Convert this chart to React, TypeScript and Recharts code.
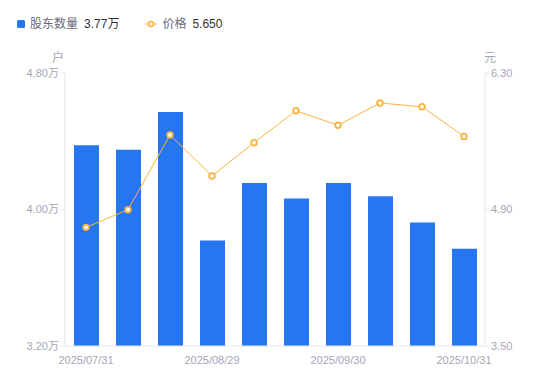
import React from "react";
import { Bar, ComposedChart, Line, XAxis, YAxis } from "recharts";

const dates = [
  "2025/07/31", "2025/08/08", "2025/08/20", "2025/08/29", "2025/09/10",
  "2025/09/19", "2025/09/30", "2025/10/10", "2025/10/20", "2025/10/31",
];
const holders = [4.376, 4.35, 4.572, 3.818, 4.155, 4.065, 4.155, 4.077, 3.924, 3.77];
const prices = [4.717, 4.898, 5.664, 5.244, 5.585, 5.913, 5.764, 5.992, 5.954, 5.65];
const leftTicks = [3.2, 4.0, 4.8];
const rightTicks = [3.5, 4.9, 6.3];

const BLUE = "#2676f2";
const ORANGE = "#f8b33e";
const AXIS = "#e3e5ea";
const TICK = "#a3a7b5";
const FONT = "'Liberation Sans', 'Noto Sans CJK SC', sans-serif";

const data = dates.map((d, i) => ({ date: d, holders: holders[i], price: prices[i] }));

const App: React.FunctionComponent = () => {
  const lastHolders = holders[holders.length - 1];
  const lastPrice = prices[prices.length - 1];

  return (
    <div style={{ position: "absolute", left: 0, top: 0, width: 550, height: 381, fontFamily: FONT }}>
      {/* legend */}
      <div style={{ position: "absolute", left: 17, top: 16, fontSize: 12, display: "flex", alignItems: "center", lineHeight: "16px" }}>
        <span style={{ width: 8, height: 8, background: BLUE, borderRadius: 1.5, display: "inline-block" }} />
        <span style={{ color: "#666a75", marginLeft: 5 }}>股东数量</span>
        <span style={{ color: "#333", marginLeft: 6 }}>{lastHolders.toFixed(2)}万</span>
        <svg width={12} height={8} style={{ marginLeft: 26 }}>
          <line x1={0} y1={4} x2={12} y2={4} stroke={ORANGE} strokeWidth={1} />
          <circle cx={6} cy={4} r={2.5} fill="#fff" stroke={ORANGE} strokeWidth={1.5} />
        </svg>
        <span style={{ color: "#666a75", marginLeft: 5 }}>价格</span>
        <span style={{ color: "#333", marginLeft: 6 }}>{lastPrice.toFixed(3)}</span>
      </div>
      <div style={{ position: "absolute", left: 52, top: 48, fontSize: 12, color: TICK }}>户</div>
      <div style={{ position: "absolute", left: 484, top: 48, fontSize: 12, color: TICK }}>元</div>

      <ComposedChart
        width={550}
        height={381}
        data={data}
        margin={{ top: 73, right: 0, left: 0, bottom: 15 }}
        style={{ fontFamily: FONT }}
      >
        <XAxis
          dataKey="date"
          interval={2}
          tickLine={false}
          axisLine={{ stroke: AXIS }}
          tick={{ fontSize: 11, fill: TICK }}
          height={20}
          tickMargin={4}
        />
        <YAxis
          yAxisId="left"
          domain={[3.2, 4.8]}
          ticks={leftTicks}
          width={65}
          tickSize={4}
          tickLine={{ stroke: AXIS }}
          axisLine={{ stroke: AXIS }}
          tick={{ fontSize: 11, fill: TICK }}
          tickFormatter={(v: number) => `${v.toFixed(2)}万`}
        />
        <YAxis
          yAxisId="right"
          orientation="right"
          domain={[3.5, 6.3]}
          ticks={rightTicks}
          width={65}
          tickSize={4}
          tickLine={{ stroke: AXIS }}
          axisLine={{ stroke: AXIS }}
          tick={{ fontSize: 11, fill: TICK }}
          tickFormatter={(v: number) => v.toFixed(2)}
        />
        <Bar yAxisId="left" dataKey="holders" fill={BLUE} barSize={25} isAnimationActive={false} />
        <Line
          yAxisId="right"
          dataKey="price"
          type="linear"
          stroke={ORANGE}
          strokeWidth={1}
          dot={{ r: 2.8, fill: "#fff", stroke: ORANGE, strokeWidth: 1.8 }}
          isAnimationActive={false}
        />
      </ComposedChart>
    </div>
  );
};

export default App;
